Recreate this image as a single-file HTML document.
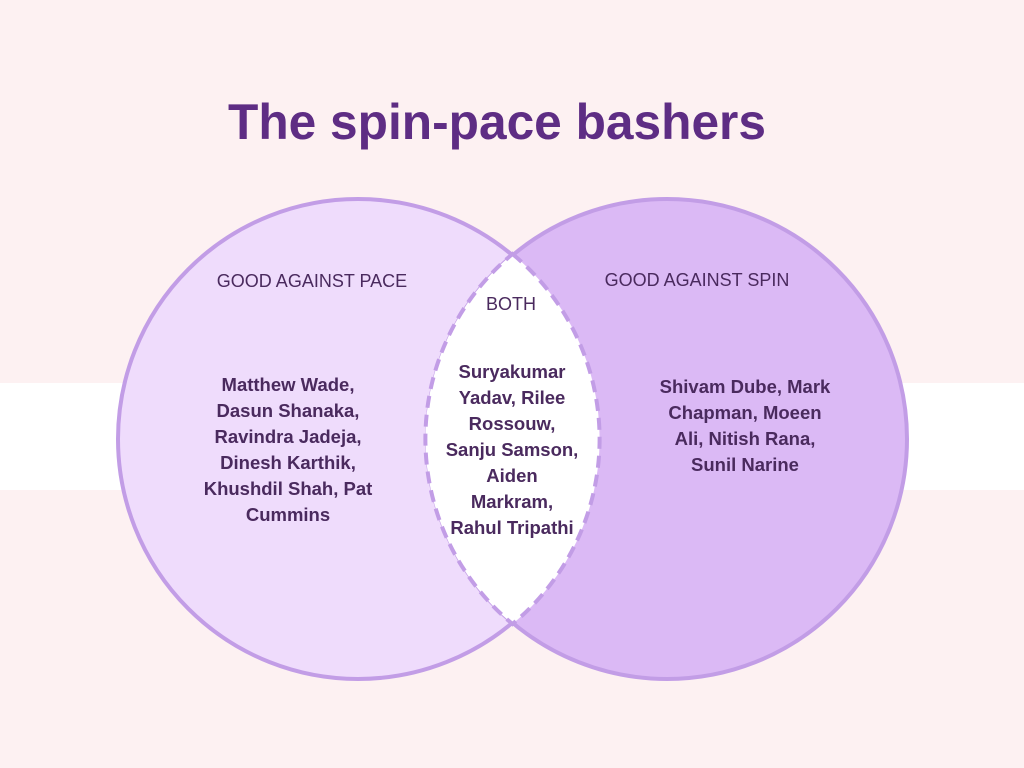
<!DOCTYPE html>
<html><head><meta charset="utf-8"><style>
body{margin:0;width:1024px;height:768px;overflow:hidden;background:#fdf1f2}
svg{display:block}
text{font-family:"Liberation Sans",sans-serif}
</style></head><body>
<svg width="1024" height="768" viewBox="0 0 1024 768">
<rect width="1024" height="768" fill="#fdf1f2"/>
<rect y="383" width="1024" height="107" fill="#ffffff"/>
<text x="497" y="139" text-anchor="middle" font-size="50" font-weight="bold" fill="#5e2d84" textLength="538" lengthAdjust="spacingAndGlyphs">The spin-pace bashers</text>
<circle cx="358" cy="439" r="240" fill="#efdcfc" stroke="#c29de6" stroke-width="4"/>
<circle cx="667" cy="439" r="240" fill="#dbb9f5" stroke="#c29de6" stroke-width="4"/>
<path d="M512.5,254 A240,240 0 0 1 512.5,624 A240,240 0 0 1 512.5,254 Z" fill="#ffffff" stroke="#c29de6" stroke-width="4" stroke-dasharray="12,7"/>
<g fill="#4a2a5e" font-size="18">
<text x="312" y="287" text-anchor="middle">GOOD AGAINST PACE</text>
<text x="697" y="286" text-anchor="middle">GOOD AGAINST SPIN</text>
<text x="511" y="310" text-anchor="middle">BOTH</text>
</g>
<g fill="#4a2a5e" font-size="18.5" font-weight="bold" text-anchor="middle">
<text x="288" y="391">Matthew Wade,</text>
<text x="288" y="417">Dasun Shanaka,</text>
<text x="288" y="443">Ravindra Jadeja,</text>
<text x="288" y="469">Dinesh Karthik,</text>
<text x="288" y="495">Khushdil Shah, Pat</text>
<text x="288" y="521">Cummins</text>
<text x="512" y="378">Suryakumar</text>
<text x="512" y="404">Yadav, Rilee</text>
<text x="512" y="430">Rossouw,</text>
<text x="512" y="456">Sanju Samson,</text>
<text x="512" y="482">Aiden</text>
<text x="512" y="508">Markram,</text>
<text x="512" y="534">Rahul Tripathi</text>
<text x="745" y="393">Shivam Dube, Mark</text>
<text x="745" y="419">Chapman, Moeen</text>
<text x="745" y="445">Ali, Nitish Rana,</text>
<text x="745" y="471">Sunil Narine</text>
</g>
</svg>
</body></html>
